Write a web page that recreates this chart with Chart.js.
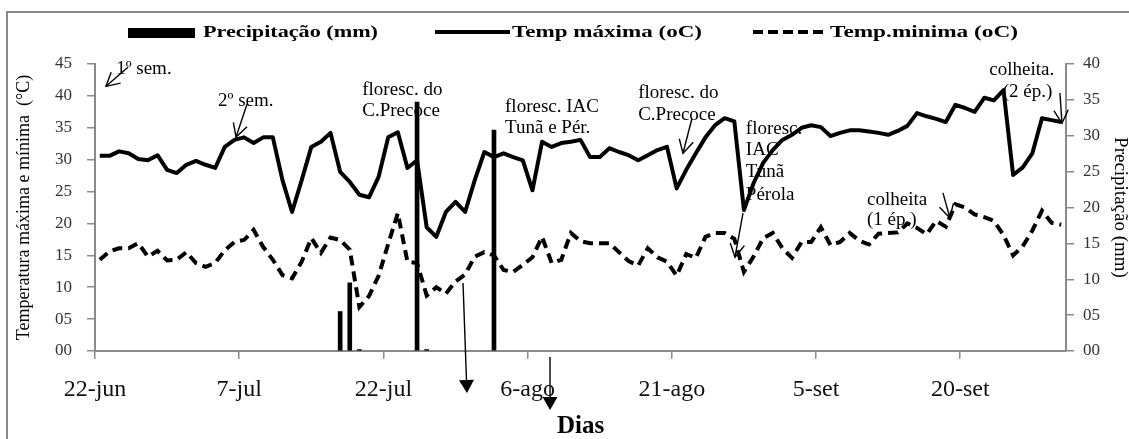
<!DOCTYPE html>
<html><head><meta charset="utf-8">
<script src="https://cdn.jsdelivr.net/npm/chart.js@4.4.1/dist/chart.umd.min.js"></script>
<style>html,body{margin:0;padding:0;background:#fff;overflow:hidden}</style>
</head><body>
<canvas id="c" width="1129" height="439"></canvas>
<script>
// ---- data ----
const tickDays = [0, 15, 30, 45, 60, 75, 90];
const tickLabels = ['22-jun', '7-jul', '22-jul', '6-ago', '21-ago', '5-set', '20-set'];
// one value per day, 22-jun .. 30-set
const tmax = [30.6,30.6,31.3,31.0,30.1,29.9,30.7,28.4,27.9,29.2,
  29.8,29.2,28.7,32.0,33.1,33.5,32.6,33.5,33.5,26.8,
  21.8,26.8,32.0,32.8,34.2,28.1,26.5,24.5,24.1,27.3,
  33.5,34.3,28.7,29.9,19.4,17.9,21.8,23.4,21.8,26.8,
  31.2,30.4,31.0,30.4,29.9,25.2,32.8,32.0,32.6,32.8,
  33.1,30.4,30.4,31.8,31.2,30.7,29.9,30.7,31.5,32.0,
  25.5,28.4,31.0,33.5,35.4,36.5,36.0,22.1,26.3,29.5,
  31.5,33.1,33.9,35.0,35.4,35.1,33.7,34.2,34.6,34.6,
  34.4,34.2,33.9,34.5,35.3,37.3,36.8,36.4,35.9,38.6,
  38.1,37.5,39.7,39.3,40.9,27.6,28.8,31.0,36.5,36.2,
  35.9];
const tmin = [14.3,15.6,16.1,16.1,16.9,14.8,15.7,14.2,14.3,15.5,
  13.8,13.2,13.8,15.8,17.1,17.4,19.0,16.3,14.3,11.9,
  11.4,14.0,17.7,15.4,17.8,17.4,15.9,6.9,8.6,11.8,
  16.8,21.6,14.0,13.8,8.7,10.0,9.0,10.9,12.0,14.8,
  15.5,15.0,12.7,12.4,13.5,14.7,17.9,13.8,14.3,18.5,
  17.2,16.9,16.9,16.9,15.5,14.1,13.4,16.1,14.7,14.0,
  11.8,15.2,14.6,17.9,18.5,18.5,17.6,12.4,14.8,17.7,
  18.5,16.1,14.6,17.1,17.1,19.4,16.6,17.1,18.5,17.3,
  16.7,18.4,18.5,18.6,20.0,19.3,18.3,20.4,19.5,23.0,
  22.5,21.4,21.0,20.4,18.2,15.0,16.4,18.9,22.0,20.1,
  19.8];
const rainDays = [25, 26, 27, 33, 34, 41];
const rainMm = [5.5, 9.5, 0.2, 34.7, 0.2, 30.8];

// ---- annotations (in data coordinates: day, °C) ----
const notes = [
  {t:'1º sem.', d:2.2, v:44.2},
  {t:'2º sem.', d:12.8, v:39.2},
  {t:'floresc. do', d:27.8, v:40.9},
  {t:'C.Precoce', d:27.8, v:37.6},
  {t:'floresc. IAC', d:42.65, v:38.3},
  {t:'Tunã e Pér.', d:42.65, v:35.0},
  {t:'floresc. do', d:56.5, v:40.5},
  {t:'C.Precoce', d:56.5, v:37.0},
  {t:'floresc.', d:67.7, v:34.8},
  {t:'IAC', d:67.7, v:31.5},
  {t:'Tunã', d:67.7, v:28.1},
  {t:'Pérola', d:67.7, v:24.5},
  {t:'colheita.', d:96.4, v:44.1, c:true},
  {t:'(2 ép.)', d:97.0, v:40.6, c:true},
  {t:'colheita', d:80.3, v:23.7},
  {t:'(1 ép.)', d:80.3, v:20.5}
];
const arrows = [
  {d1:3.43, v1:44.5, d2:1.14, v2:41.5},
  {d1:15.81, v1:38.7, d2:14.67, v2:33.55},
  {d1:62.1, v1:36.5, d2:61.16, v2:31.0},
  {d1:67.4, v1:21.6, d2:66.57, v2:14.7},
  {d1:100.37, v1:40.45, d2:100.58, v2:35.7},
  {d1:88.2, v1:24.8, d2:88.93, v2:20.85},
  {d1:38.28, v1:10.66, d2:38.69, v2:-6.6, filled:true},
  {d1:47.33, v1:-0.94, d2:47.33, v2:-9.25, filled:true}
];

const SERIF = "'Liberation Serif', 'Times New Roman', serif";
Chart.defaults.font.family = SERIF;
const pad2 = v => (v < 10 ? '0' : '') + v;
const GRAY = '#8a8a8a';

function drawArrow(ctx, x1, y1, x2, y2, filled) {
  const a = Math.atan2(y2 - y1, x2 - x1);
  ctx.save();
  ctx.strokeStyle = '#000'; ctx.fillStyle = '#000'; ctx.lineWidth = 1.4;
  if (filled) {
    const L = 13, w = 7.5;
    const bx = x2 - L * Math.cos(a), by = y2 - L * Math.sin(a);
    ctx.beginPath(); ctx.moveTo(x1, y1); ctx.lineTo(bx, by); ctx.stroke();
    ctx.beginPath(); ctx.moveTo(x2, y2);
    ctx.lineTo(bx + w * Math.sin(a), by - w * Math.cos(a));
    ctx.lineTo(bx - w * Math.sin(a), by + w * Math.cos(a));
    ctx.closePath(); ctx.fill();
  } else {
    const L = 15, w = 0.5;
    ctx.beginPath(); ctx.moveTo(x1, y1); ctx.lineTo(x2, y2); ctx.stroke();
    ctx.beginPath();
    ctx.moveTo(x2 - L * Math.cos(a - w), y2 - L * Math.sin(a - w));
    ctx.lineTo(x2, y2);
    ctx.lineTo(x2 - L * Math.cos(a + w), y2 - L * Math.sin(a + w));
    ctx.stroke();
  }
  ctx.restore();
}
function stretchText(ctx, text, x, y, width) {
  const m = ctx.measureText(text).width;
  const s = width / m;
  ctx.save(); ctx.translate(x, y); ctx.scale(s, 1); ctx.fillText(text, 0, 0); ctx.restore();
}

const decor = {
  id: 'decor',
  beforeDatasetsDraw(chart) {
    const ctx = chart.ctx, xs = chart.scales.x, ys = chart.scales.y;
    ctx.save();
    ctx.fillStyle = '#000';
    ctx.font = '19px ' + SERIF;
    ctx.textBaseline = 'middle';
    notes.forEach(n => {
      ctx.textAlign = n.c ? 'center' : 'left';
      ctx.fillText(n.t, xs.getPixelForValue(n.d), ys.getPixelForValue(n.v));
    });
    ctx.restore();
  },
  afterDraw(chart) {
    const ctx = chart.ctx, xs = chart.scales.x, ys = chart.scales.y;
    ctx.save();
    // frame
    ctx.strokeStyle = GRAY; ctx.lineWidth = 2;
    ctx.strokeRect(7, 12, 1140, 450);
    // legend
    const ds = chart.data.datasets;
    ctx.fillStyle = '#000'; ctx.strokeStyle = '#000';
    ctx.fillRect(128, 28, 67, 10);
    ctx.lineWidth = 4;
    ctx.beginPath(); ctx.moveTo(435, 32); ctx.lineTo(510, 32); ctx.stroke();
    ctx.setLineDash([10, 5]);
    ctx.beginPath(); ctx.moveTo(753, 32); ctx.lineTo(827, 32); ctx.stroke();
    ctx.setLineDash([]);
    ctx.font = 'bold 17px ' + SERIF; ctx.textBaseline = 'middle'; ctx.textAlign = 'left';
    stretchText(ctx, ds[0].label, 203, 33, 175);
    stretchText(ctx, ds[1].label, 512, 33, 190);
    stretchText(ctx, ds[2].label, 830, 33, 188);
    ctx.restore();
    arrows.forEach(a => drawArrow(ctx,
      xs.getPixelForValue(a.d1), ys.getPixelForValue(a.v1),
      xs.getPixelForValue(a.d2), ys.getPixelForValue(a.v2), a.filled));
  }
};

new Chart(document.getElementById('c'), {
  type: 'bar',
  data: {
    datasets: [
      {type: 'bar', label: 'Precipitação (mm)', yAxisID: 'y1',
       data: rainDays.map((d, i) => ({x: d + 0.5, y: rainMm[i]})),
       backgroundColor: '#000', borderWidth: 0, barThickness: 4},
      {type: 'line', label: 'Temp máxima (oC)', yAxisID: 'y',
       data: tmax.map((v, i) => ({x: i + 0.5, y: v})),
       borderColor: '#000', borderWidth: 4, pointRadius: 0, tension: 0,
       borderJoinStyle: 'round', fill: false},
      {type: 'line', label: 'Temp.minima (oC)', yAxisID: 'y',
       data: tmin.map((v, i) => ({x: i + 0.5, y: v})),
       borderColor: '#000', borderWidth: 4, borderDash: [10, 6], pointRadius: 0,
       tension: 0, fill: false}
    ]
  },
  options: {
    responsive: false, animation: false, devicePixelRatio: 1,
    layout: {padding: {top: 64, left: 0, right: 0, bottom: 0}},
    plugins: {legend: {display: false}, tooltip: {enabled: false}},
    scales: {
      x: {
        type: 'linear', min: 0, max: 101, offset: false,
        afterBuildTicks: s => { s.ticks = tickDays.map(v => ({value: v})); },
        afterFit: s => { s.height = 88; },
        ticks: {callback: v => tickLabels[tickDays.indexOf(v)], font: {size: 24},
                color: '#111', padding: 16, maxRotation: 0, autoSkip: false},
        grid: {drawOnChartArea: false, drawTicks: true, tickLength: 8, color: GRAY, lineWidth: 1.5, offset: false},
        border: {display: true, color: GRAY, width: 2},
        title: {display: true, text: 'Dias', color: '#000',
                font: {size: 25, weight: 'bold', lineHeight: 1}, padding: 0}
      },
      y: {
        position: 'left', min: 0, max: 45,
        afterFit: s => { s.width = 95; },
        ticks: {stepSize: 5, callback: pad2, font: {size: 17}, color: '#333', padding: 15},
        grid: {drawOnChartArea: false, drawTicks: true, tickLength: 8, color: GRAY, lineWidth: 1.5},
        border: {display: true, color: GRAY, width: 2},
        title: {display: true, text: 'Temperatura máxima e mínima  (°C)', color: '#000',
                font: {size: 18, lineHeight: 1.2}, padding: {top: 13, bottom: 0}}
      },
      y1: {
        position: 'right', min: 0, max: 40,
        afterFit: s => { s.width = 63; },
        ticks: {stepSize: 5, callback: pad2, font: {size: 17}, color: '#333', padding: 9},
        grid: {drawOnChartArea: false, drawTicks: true, tickLength: 8, color: GRAY, lineWidth: 1.5},
        border: {display: true, color: GRAY, width: 2},
        title: {display: true, text: 'Precipitação (mm)', color: '#000',
                font: {size: 19, lineHeight: 1}, padding: {top: 0, bottom: 0}}
      }
    }
  },
  plugins: [decor]
});
</script>
</body></html>
